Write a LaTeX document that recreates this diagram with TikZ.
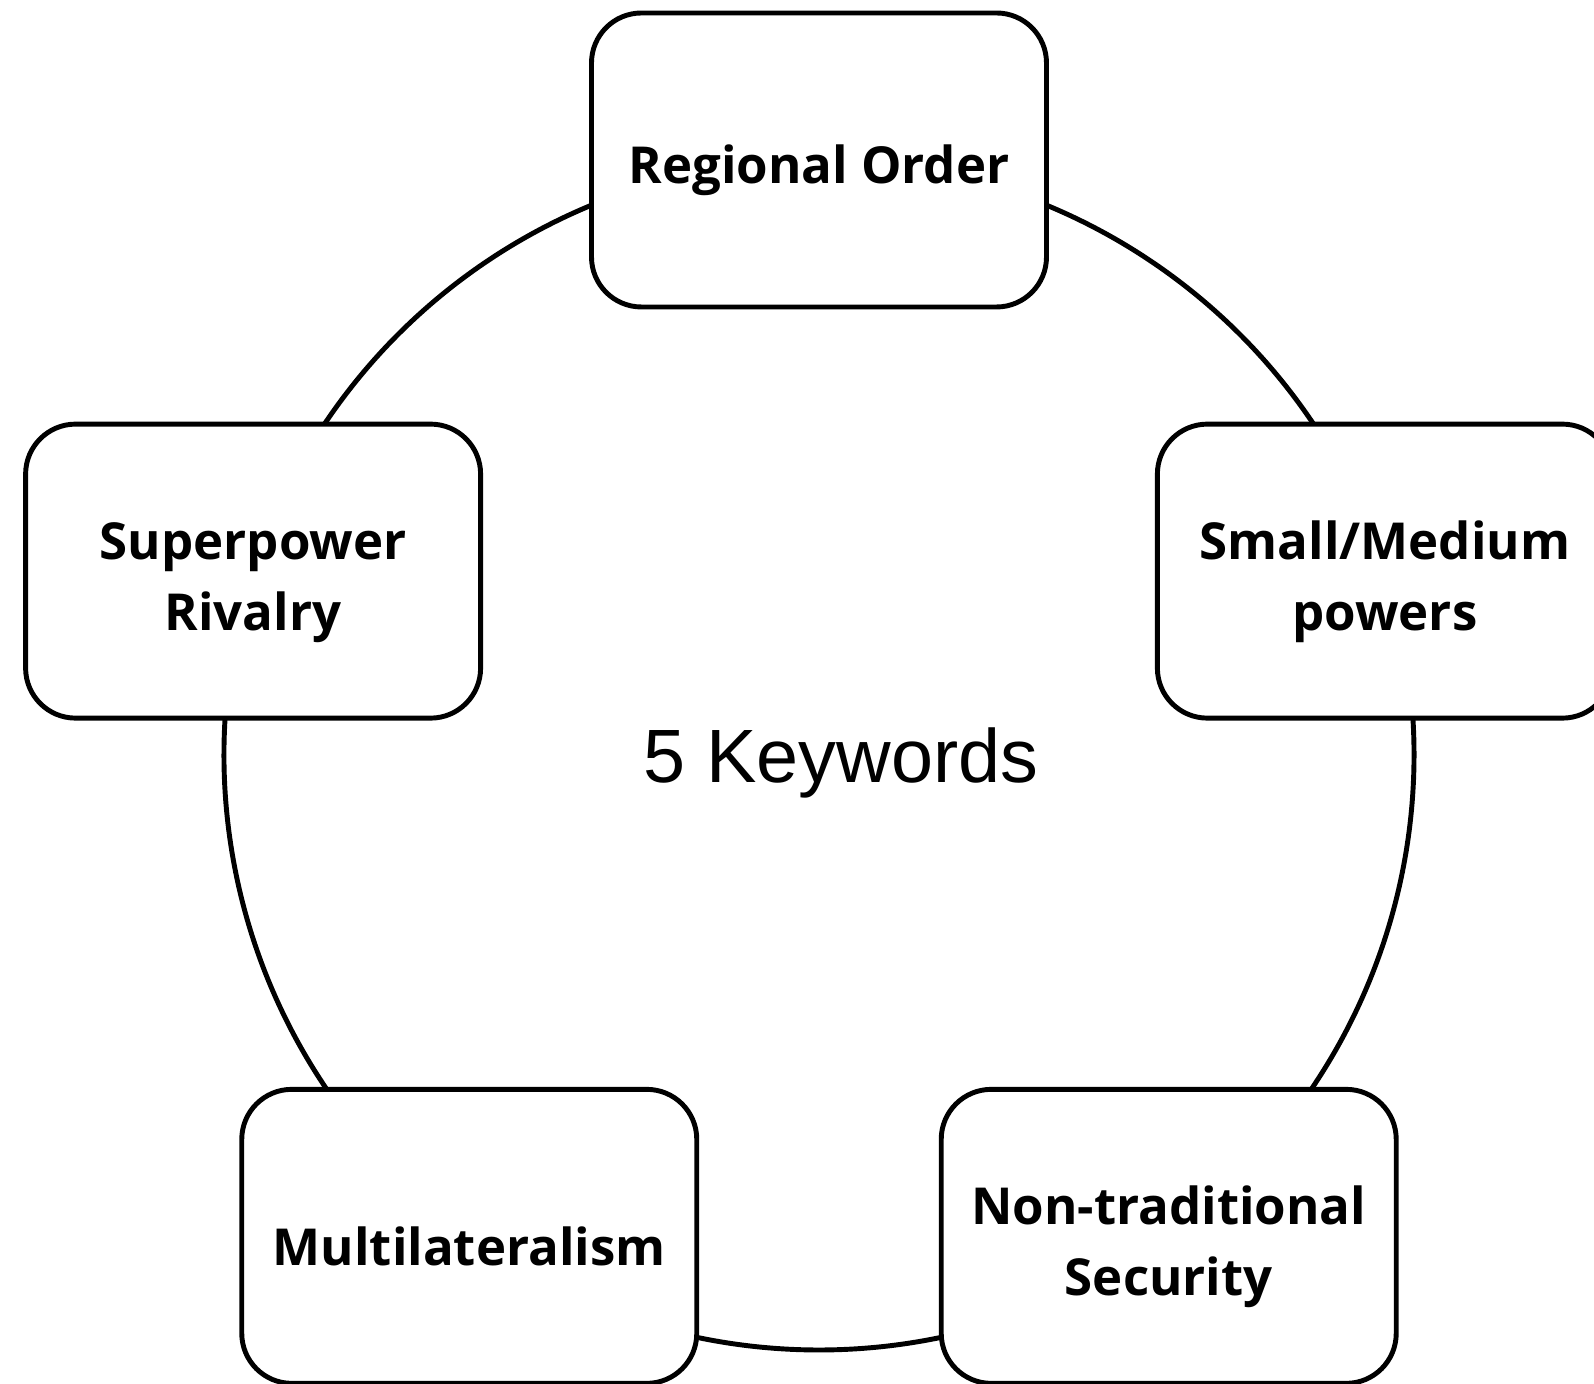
\documentclass[tikz,border=0pt]{standalone}
\usepackage{fontspec}
\newfontfamily\boxfont{Open Sans}
\newfontfamily\hubfont{Liberation Sans}
\usetikzlibrary{calc}
\newcommand\kwtop{\rule{0pt}{17pt}}

\tikzset{
  kwbox/.style={draw=black,line width=1.4pt,fill=white,rounded corners=0.5cm,
    minimum width=4.55cm,minimum height=2.94cm,align=center,
    font=\boxfont\bfseries\fontsize{14.5}{20.4}\selectfont}
  ,ring/.style={line width=1.4pt}
}

\begin{document}
\begin{tikzpicture}
\useasboundingbox (-8.19,7.55) rectangle (7.75,-6.29);

\coordinate (O) at (0,0);
\coordinate (p1) at (90:5.95);
\coordinate (p2) at (162:5.95);
\coordinate (p3) at (234:5.95);
\coordinate (p4) at (306:5.95);
\coordinate (p5) at (18:5.95);

\draw[ring] (p1) arc[start angle=90,end angle=162,radius=5.95];
\draw[ring] (p2) arc[start angle=162,end angle=234,radius=5.95];
\draw[ring] (p3) arc[start angle=234,end angle=306,radius=5.95];
\draw[ring] (p4) arc[start angle=306,end angle=378,radius=5.95];
\draw[ring] (p5) arc[start angle=18,end angle=90,radius=5.95];

\node[kwbox] (order) at (p1) {\kwtop Regional Order};
\node[kwbox] (rivalry) at (p2) {\kwtop Superpower\\Rivalry};
\node[kwbox] (multi) at (p3) {\kwtop Multilateralism};
\node[kwbox] (security) at (p4) {\kwtop Non-traditional\\Security};
\node[kwbox] (powers) at (p5) {\kwtop Small/Medium\\powers};

\node[anchor=base,font=\hubfont\fontsize{21.5}{26}\selectfont] (hub) at ($(O)+(0.22,-0.28)$) {5 Keywords};
\end{tikzpicture}
\end{document}
